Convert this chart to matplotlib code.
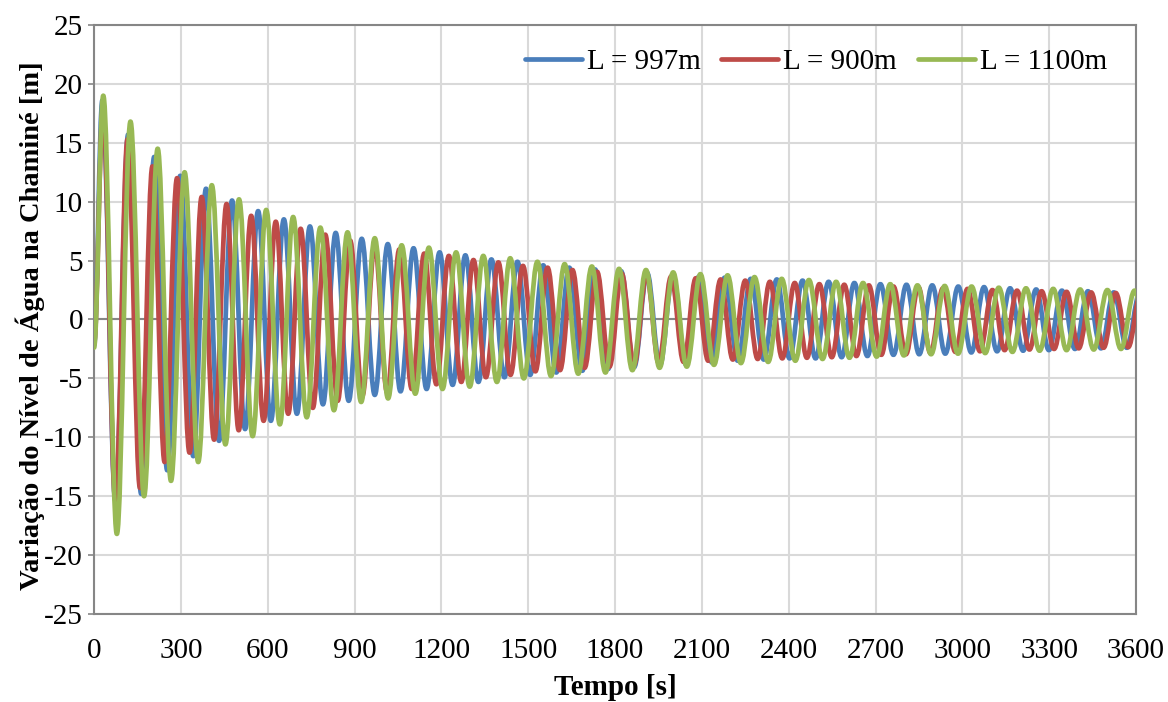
import matplotlib
matplotlib.use("Agg")
import matplotlib.pyplot as plt
from matplotlib.path import Path
from matplotlib.patches import PathPatch

# ---------------- data (extrema) ----------------
labels = ["L = 997m", "L = 900m", "L = 1100m"]
colors = ["#4A7EBB", "#BE4B48", "#98B954"]

x_ticks = [0, 300, 600, 900, 1200, 1500, 1800, 2100, 2400, 2700, 3000, 3300, 3600]
y_ticks = [-25, -20, -15, -10, -5, 0, 5, 10, 15, 20, 25]

# L = 997m : start, then alternating peaks / troughs
t_997 = [0, 29, 74, 118, 163, 208, 253, 298, 343, 387, 432, 477, 522, 567, 611, 656, 701,
         746, 791, 835, 880, 925, 970, 1015, 1059, 1104, 1149, 1194, 1239, 1283, 1328,
         1373, 1418, 1463, 1507, 1552, 1597, 1642, 1687, 1731, 1776, 1821, 1866, 1911,
         1955, 2000, 2045, 2090, 2135, 2179, 2224, 2269, 2314, 2359, 2403, 2448, 2493,
         2538, 2583, 2627, 2672, 2717, 2762, 2807, 2851, 2896, 2941, 2986, 3031, 3075,
         3120, 3165, 3210, 3255, 3299, 3344, 3389, 3434, 3479, 3523, 3568, 3613]
h_997 = [-2.2, 18.6, -15.4, 15.7, -14.8, 13.8, -12.8, 12.2, -11.6, 11.1, -10.3, 10.1, -9.3,
         9.2, -8.6, 8.5, -8.0, 7.9, -7.2, 7.35, -6.9, 6.85, -6.4, 6.4, -6.1, 6.05, -5.9,
         5.7, -5.55, 5.45, -5.3, 5.1, -4.9, 4.9, -4.7, 4.6, -4.5, 4.4, -4.35, 4.25, -4.2,
         4.1, -4.05, 3.95, -3.9, 3.8, -3.8, 3.65, -3.65, 3.55, -3.5, 3.45, -3.4, 3.4, -3.3,
         3.3, -3.3, 3.2, -3.2, 3.1, -3.1, 3.0, -3.0, 2.95, -2.95, 2.9, -2.9, 2.8, -2.8,
         2.75, -2.7, 2.65, -2.65, 2.55, -2.6, 2.45, -2.5, 2.4, -2.45, 2.3, -2.4, 2.25]

# L = 900m
t_900 = [0, 31, 74, 116, 159, 202, 244, 287, 330, 372, 415, 458, 500, 543, 586, 628, 671,
         714, 756, 799, 842, 885, 927, 970, 1013, 1055, 1098, 1141, 1183, 1226, 1269,
         1311, 1354, 1397, 1439, 1482, 1525, 1567, 1610, 1653, 1695, 1738, 1781, 1823,
         1866, 1909, 1951, 1994, 2037, 2079, 2122, 2165, 2207, 2250, 2293, 2335, 2378,
         2421, 2463, 2506, 2549, 2592, 2634, 2677, 2720, 2762, 2805, 2848, 2890, 2933,
         2976, 3018, 3061, 3104, 3146, 3189, 3232, 3274, 3317, 3360, 3402, 3445, 3488,
         3530, 3573, 3616]
h_900 = [-2.0, 17.8, -15.3, 15.3, -14.3, 13.0, -12.1, 12.0, -11.3, 10.4, -10.2, 9.8, -9.4,
         8.8, -8.6, 8.3, -8.0, 7.7, -7.5, 7.2, -6.9, 6.7, -6.5, 6.3, -6.2, 5.95, -5.9, 5.6,
         -5.5, 5.4, -5.3, 5.05, -4.9, 4.85, -4.7, 4.55, -4.4, 4.4, -4.3, 4.2, -4.1, 4.05,
         -4.0, 3.9, -3.85, 3.8, -3.7, 3.65, -3.6, 3.5, -3.5, 3.4, -3.4, 3.3, -3.35, 3.2,
         -3.3, 3.1, -3.25, 3.0, -3.2, 2.95, -3.1, 2.9, -3.0, 2.8, -2.95, 2.75, -2.85, 2.65,
         -2.75, 2.6, -2.7, 2.5, -2.6, 2.45, -2.55, 2.4, -2.5, 2.35, -2.45, 2.3, -2.4, 2.25,
         -2.35, 2.2]

# L = 1100m
t_1100 = [0, 32, 79, 126, 173, 220, 266, 313, 360, 407, 454, 501, 548, 595, 642, 688, 735,
          782, 829, 876, 923, 970, 1016, 1063, 1110, 1157, 1204, 1251, 1298, 1345, 1392,
          1438, 1485, 1532, 1579, 1626, 1673, 1720, 1767, 1814, 1860, 1907, 1954, 2001,
          2048, 2095, 2142, 2189, 2235, 2282, 2329, 2376, 2423, 2470, 2517, 2564, 2610,
          2657, 2704, 2751, 2798, 2845, 2892, 2939, 2985, 3032, 3079, 3126, 3173, 3220,
          3267, 3314, 3360, 3407, 3454, 3501, 3548, 3595, 3642]
h_1100 = [-2.4, 19.0, -18.2, 16.8, -15.0, 14.5, -13.7, 12.5, -12.1, 11.4, -10.6, 10.2, -9.9,
          9.3, -8.9, 8.7, -8.3, 7.8, -7.7, 7.4, -7.0, 6.9, -6.7, 6.3, -6.3, 6.1, -5.9, 5.7,
          -5.7, 5.4, -5.3, 5.2, -5.0, 4.9, -4.8, 4.7, -4.6, 4.5, -4.5, 4.3, -4.3, 4.2, -4.1,
          4.0, -4.0, 3.85, -3.85, 3.75, -3.7, 3.6, -3.6, 3.45, -3.5, 3.35, -3.35, 3.2,
          -3.25, 3.1, -3.15, 3.0, -3.05, 2.9, -2.95, 2.85, -2.9, 2.8, -2.85, 2.7, -2.75,
          2.65, -2.65, 2.6, -2.6, 2.55, -2.55, 2.5, -2.5, 2.45, -2.45]

series = [(t_997, h_997), (t_900, h_900), (t_1100, h_1100)]

# ---------------- plot ----------------
plt.rcParams["font.family"] = ["Liberation Serif", "DejaVu Serif"]
FS = 21

fig = plt.figure(figsize=(11.68, 7.02), dpi=100)
ax = fig.add_axes([94 / 1168, 1 - 614 / 702, (1136 - 94) / 1168, (614 - 25) / 702])


def smooth_path(ts, hs):
    """Smooth line through the extrema (horizontal tangent at each one)."""
    verts = [(ts[0], hs[0])]
    codes = [Path.MOVETO]
    for i in range(len(ts) - 1):
        dt = ts[i + 1] - ts[i]
        verts += [(ts[i] + 0.364 * dt, hs[i]),
                  (ts[i + 1] - 0.364 * dt, hs[i + 1]),
                  (ts[i + 1], hs[i + 1])]
        codes += [Path.CURVE4] * 3
    return Path(verts, codes)


for (ts, hs), c, lab in zip(series, colors, labels):
    patch = PathPatch(smooth_path(ts, hs), facecolor="none", edgecolor=c, lw=3.4,
                      capstyle="round", joinstyle="round", zorder=3)
    ax.add_patch(patch)
    ax.plot([], [], color=c, lw=3.4, label=lab, solid_capstyle="round")

ax.set_xlim(0, 3600)
ax.set_ylim(-25, 25)
ax.set_xticks(x_ticks)
ax.set_yticks(y_ticks)
ax.set_xticklabels([str(v) for v in x_ticks])
ax.set_yticklabels([str(v) for v in y_ticks])

ax.grid(True, color="#D9D9D9", lw=1.5, zorder=0)
ax.set_axisbelow(True)
ax.axhline(0, color="#868686", lw=1.5, zorder=1)
for s in ax.spines.values():
    s.set_color("#868686")
    s.set_linewidth(1.5)

ax.tick_params(axis="x", length=0, pad=17, labelsize=FS)
ax.tick_params(axis="y", length=4, width=1.2, color="#868686", pad=4, labelsize=FS)

ax.set_xlabel("Tempo [s]", fontsize=FS, fontweight="bold")
ax.xaxis.set_label_coords(0.5, -0.102)
ax.set_ylabel("Variação do Nível de Água na Chaminé [m]", fontsize=20.5, fontweight="bold")
ax.yaxis.set_label_coords(-0.047, 0.49)

ax.legend(loc="center right", bbox_to_anchor=(0.972, 0.937), ncol=3, frameon=False,
          fontsize=FS, handlelength=1.95, handletextpad=0.17, columnspacing=0.72,
          borderaxespad=0, borderpad=0)

fig.savefig("out.png", dpi=100)
